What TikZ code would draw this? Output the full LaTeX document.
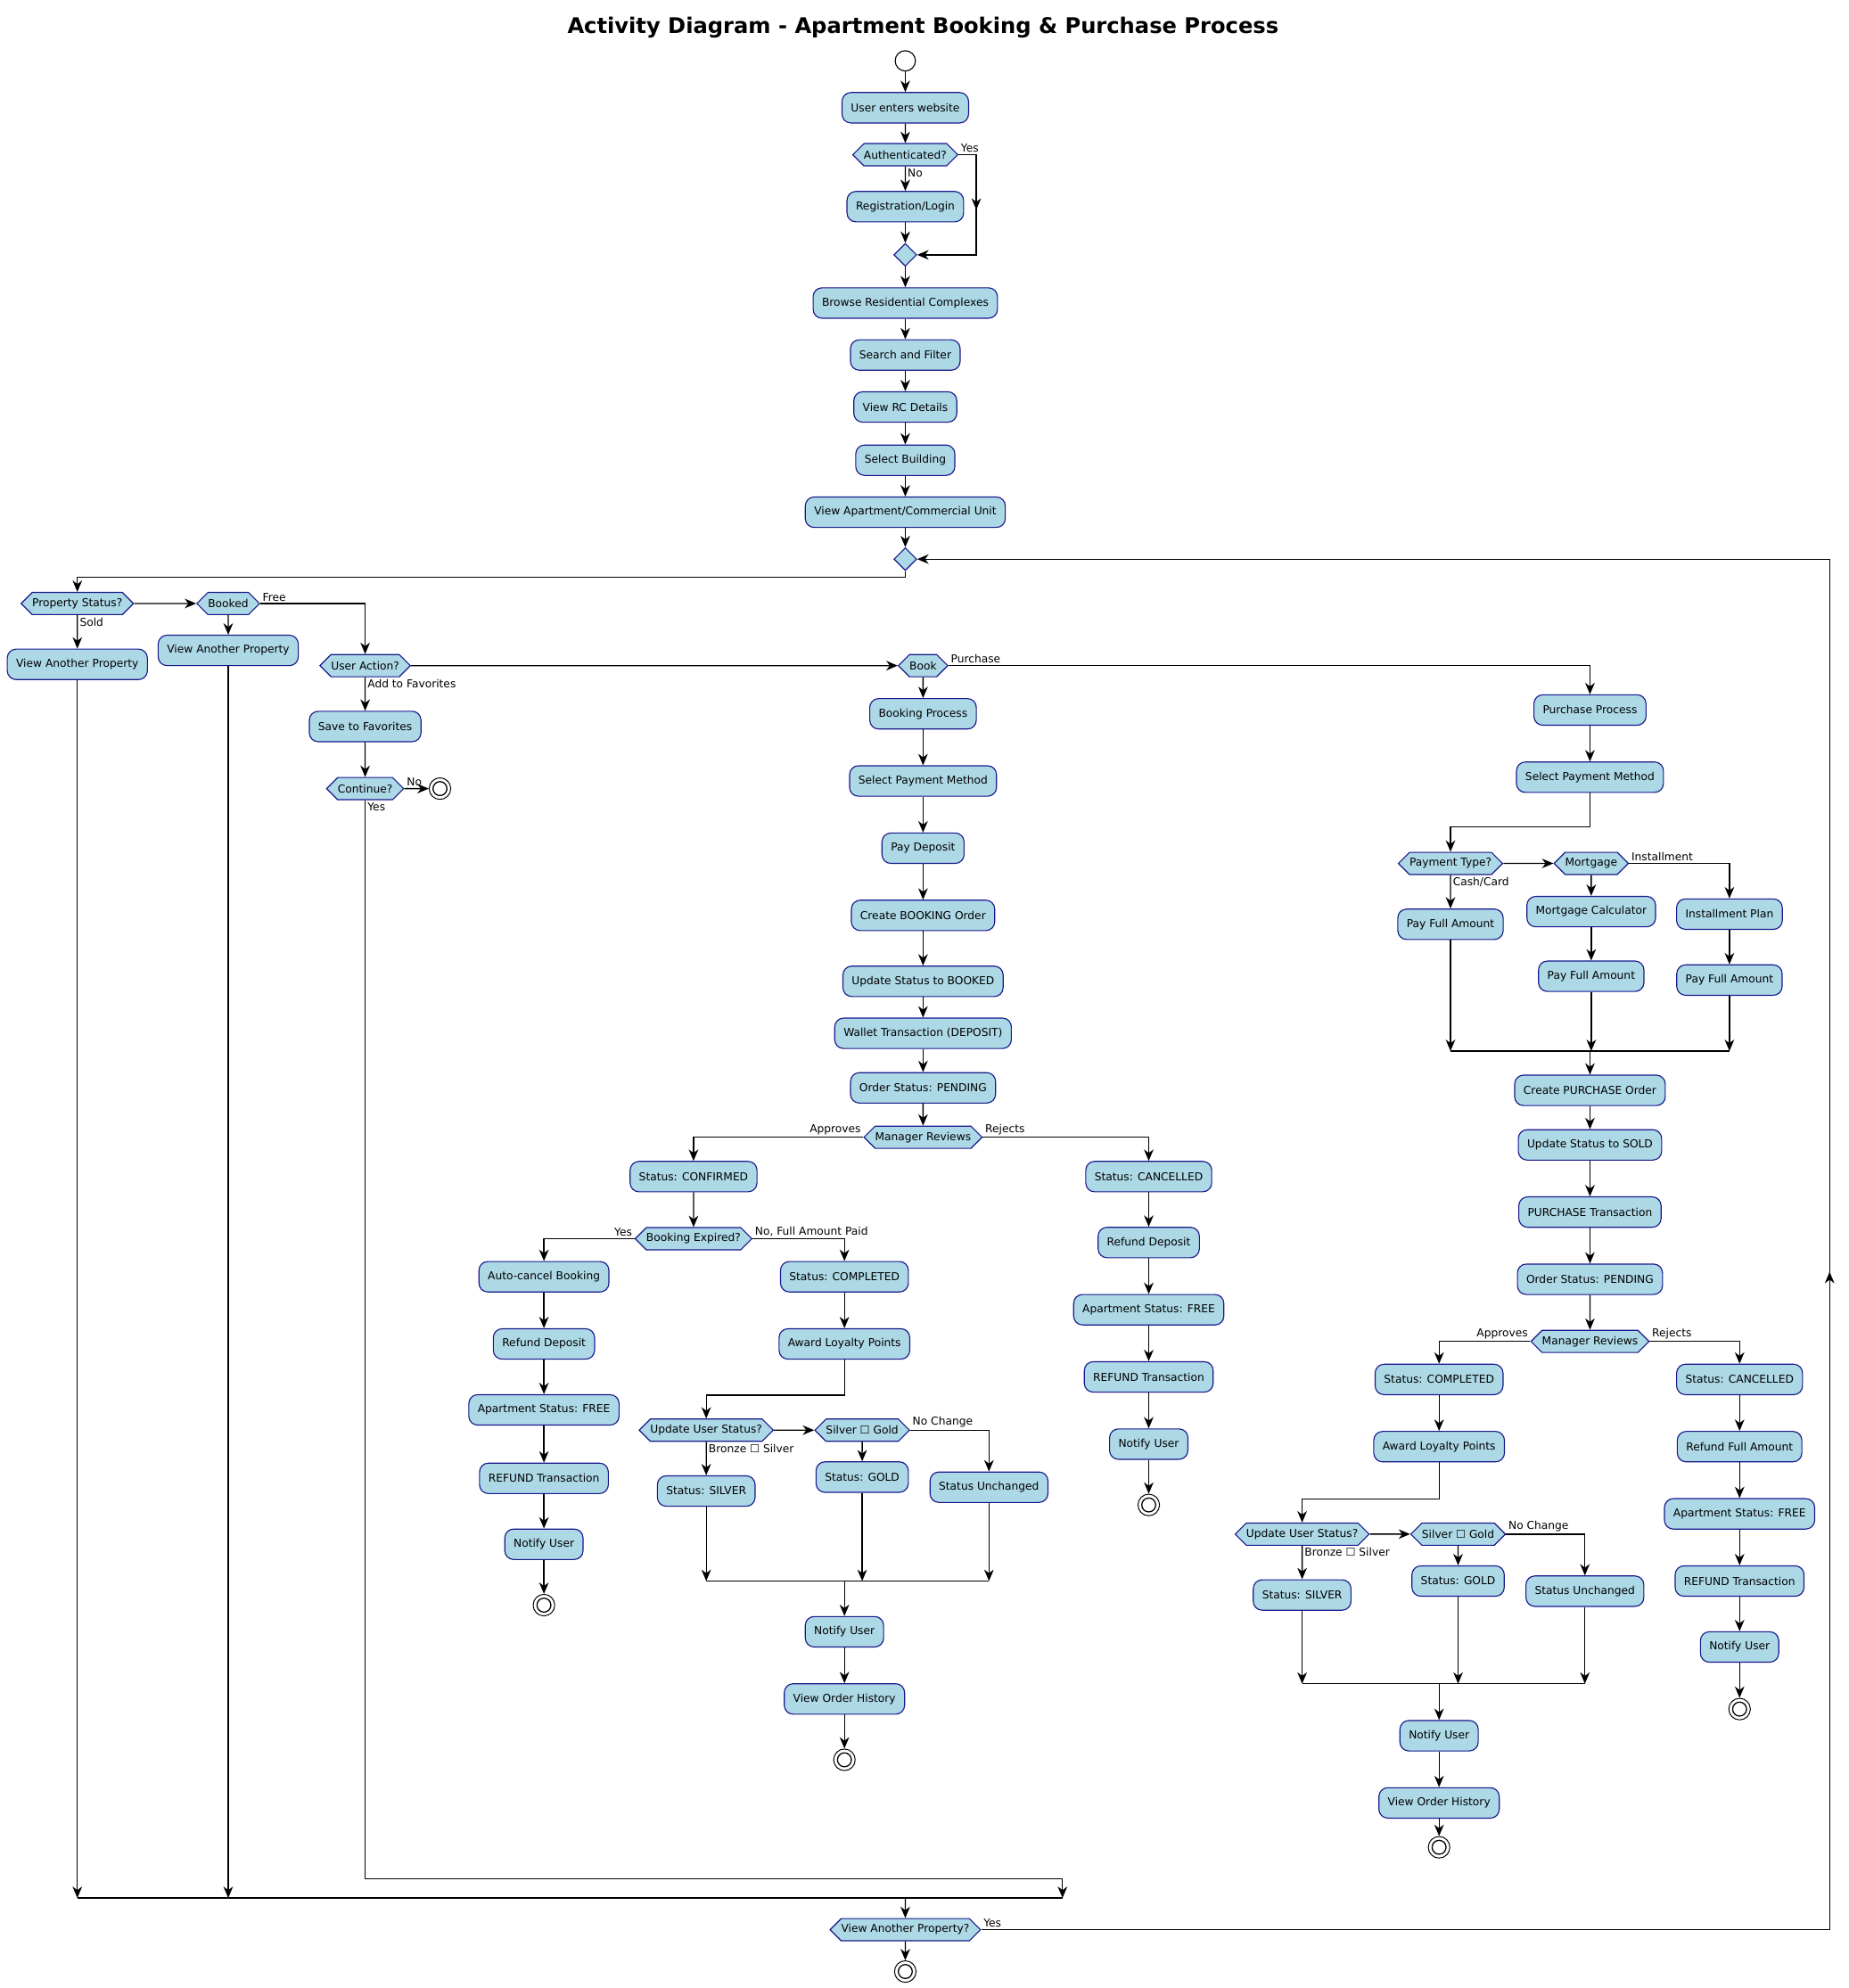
\documentclass[tikz,border=0pt]{standalone}
\usepackage{fontspec}
\setmainfont{DejaVu Sans}
\usepackage{tikz}
\usetikzlibrary{arrows.meta,positioning,shapes.symbols,shapes.geometric,decorations.markings,calc}
\usepackage{xcolor}
\definecolor{boxfill}{HTML}{ADD8E6}
\definecolor{boxline}{RGB}{24,24,140}

\begin{document}
\begin{tikzpicture}[
  x=1pt, y=-1pt,
  font=\fontsize{8.6}{10}\selectfont,
  act/.style={
    draw=boxline,
    fill=boxfill,
    rounded corners=7pt,
    line width=.8pt,
    minimum height=24pt,
    inner xsep=7pt,
    inner ysep=0pt
  },
  dec/.style={
    shape=signal,
    signal to=west and east,
    signal pointer angle=90,
    draw=boxline,
    fill=boxfill,
    line width=.8pt,
    minimum height=17.5pt,
    inner xsep=0pt,
    inner ysep=0pt
  },
  merge/.style={diamond, draw=boxline, fill=boxfill, line width=.8pt,
    minimum size=18pt, inner sep=0pt},
  startnode/.style={circle, draw, fill=white, line width=.8pt, minimum size=16pt, inner sep=0pt},
  endnode/.style={circle, draw, fill=white, line width=.7pt, minimum size=17pt, inner sep=0pt,
    path picture={\draw[line width=.9pt] (path picture bounding box.center) circle (5.5pt);}},
  lbl/.style={inner sep=1.5pt},
  arrow/.style={-{Stealth[length=9pt,width=7.5pt,inset=2.8pt]}, line width=.9pt},
  link/.style={line width=.9pt},
  midarrow/.style={link, postaction={decorate}, decoration={markings,
    mark=at position #1 with {\arrow{Stealth[length=9pt,width=7.5pt,inset=2.8pt]}}}},
  midarrow/.default=0.5
]
\useasboundingbox (0,0) rectangle (1458,1568);

\node[font=\bfseries\fontsize{17}{20}\selectfont] (title) at (728,22) {Activity Diagram - Apartment Booking \& Purchase Process};

\node[startnode] (start) at (714,48) {};
\node[act] (enter) at (714,85) {User enters website};
\node[dec] (auth) at (714,122) {Authenticated?};
\node[act] (reg) at (714,163) {Registration/Login};
\node[merge] (mauth) at (714,201) {};
\node[act] (browse) at (714,239) {Browse Residential Complexes};
\node[act] (search) at (714,280) {Search and Filter};
\node[act] (rcdet) at (714,321) {View RC Details};
\node[act] (bldg) at (714,363) {Select Building};
\node[act] (unit) at (714,404) {View Apartment/Commercial Unit};
\node[merge] (mloop) at (714,441) {};

\node[dec] (pstat) at (61,476) {Property Status?};
\node[act] (vapa) at (61,524) {View Another Property};
\node[dec] (booked) at (180,476) {Booked};
\node[act] (vapb) at (180,513) {View Another Property};
\node[dec] (uact) at (288,525) {User Action?};
\node[act] (fav) at (288,573) {Save to Favorites};
\node[dec] (cont) at (288,622) {Continue?};
\node[endnode] (favend) at (347,622) {};

\node[dec] (book) at (728,525) {Book};
\node[act] (bproc) at (728,563) {Booking Process};
\node[act] (bpay) at (728,616) {Select Payment Method};
\node[act] (deposit) at (728,669) {Pay Deposit};
\node[act] (border) at (728,722) {Create BOOKING Order};
\node[act] (bstat) at (728,774) {Update Status to BOOKED};
\node[act] (wallet) at (728,815) {Wallet Transaction (DEPOSIT)};
\node[act] (bpend) at (728,858) {Order Status: PENDING};
\node[dec] (breview) at (728,897) {Manager Reviews};
\node[act] (bconf) at (547,928) {Status: CONFIRMED};
\node[dec] (expired) at (547,977) {Booking Expired?};
\node[act] (autocancel) at (429,1007) {Auto-cancel Booking};
\node[act] (arefund) at (429,1060) {Refund Deposit};
\node[act] (afree) at (429,1112) {Apartment Status: FREE};
\node[act] (atx) at (429,1166) {REFUND Transaction};
\node[act] (anotify) at (429,1218) {Notify User};
\node[endnode] (aend) at (429,1266) {};
\node[act] (bdone) at (666,1007) {Status: COMPLETED};
\node[act] (bpoints) at (666,1060) {Award Loyalty Points};
\node[dec] (blevel) at (557,1128) {Update User Status?};
\node[dec] (bsg) at (680,1128) {Silver ☐ Gold};
\node[act] (bsilver) at (557,1176) {Status: SILVER};
\node[act] (bgold) at (680,1165) {Status: GOLD};
\node[act] (bsame) at (780,1173) {Status Unchanged};
\node[act] (bnotify) at (666,1287) {Notify User};
\node[act] (bhist) at (666,1340) {View Order History};
\node[endnode] (bend) at (666,1388) {};
\node[act] (bcancel) at (906,928) {Status: CANCELLED};
\node[act] (crefund) at (906,980) {Refund Deposit};
\node[act] (cfree) at (906,1033) {Apartment Status: FREE};
\node[act] (ctx) at (906,1086) {REFUND Transaction};
\node[act] (cnotify) at (906,1139) {Notify User};
\node[endnode] (cend) at (906,1187) {};

\node[act] (pproc) at (1254,560) {Purchase Process};
\node[act] (ppay) at (1254,613) {Select Payment Method};
\node[dec] (ptype) at (1144,681) {Payment Type?};
\node[dec] (mortgage) at (1255,681) {Mortgage};
\node[act] (pfull) at (1144,729) {Pay Full Amount};
\node[act] (mcalc) at (1255,719) {Mortgage Calculator};
\node[act] (mfull) at (1255,770) {Pay Full Amount};
\node[act] (iplan) at (1364,721) {Installment Plan};
\node[act] (ifull) at (1364,773) {Pay Full Amount};
\node[act] (porder) at (1254,860) {Create PURCHASE Order};
\node[act] (psold) at (1254,903) {Update Status to SOLD};
\node[act] (ptx) at (1254,956) {PURCHASE Transaction};
\node[act] (ppend) at (1254,1009) {Order Status: PENDING};
\node[dec] (preview) at (1254,1058) {Manager Reviews};
\node[act] (pdone) at (1135,1088) {Status: COMPLETED};
\node[act] (ppoints) at (1135,1141) {Award Loyalty Points};
\node[dec] (plevel) at (1027,1210) {Update User Status?};
\node[dec] (psg) at (1150,1210) {Silver ☐ Gold};
\node[act] (psilver) at (1027,1258) {Status: SILVER};
\node[act] (pgold) at (1150,1247) {Status: GOLD};
\node[act] (psame) at (1250,1255) {Status Unchanged};
\node[act] (pnotify) at (1135,1369) {Notify User};
\node[act] (phist) at (1135,1422) {View Order History};
\node[endnode] (pend) at (1135,1457) {};
\node[act] (pcancel) at (1372,1088) {Status: CANCELLED};
\node[act] (prefund) at (1372,1141) {Refund Full Amount};
\node[act] (pfree) at (1372,1194) {Apartment Status: FREE};
\node[act] (pretx) at (1372,1247) {REFUND Transaction};
\node[act] (prnotify) at (1372,1299) {Notify User};
\node[endnode] (prend) at (1372,1348) {};

\node[dec] (again) at (714,1522) {View Another Property?};
\node[endnode] (finish) at (714,1555) {};

\coordinate (favbend) at (838,1482);
\coordinate (alljoin) at (714,1497);
\coordinate (payjoin) at (1254,829);
\coordinate (bjoin) at (666,1247);
\coordinate (pjoin) at (1135,1328);
\coordinate (loopx) at (1443,1522);

% entry
\draw[arrow] (start) -- (enter);
\draw[arrow] (enter) -- (auth);
\draw[arrow] (auth) -- node[lbl, anchor=north west, pos=0] {No} (reg);
\draw[arrow] (auth.east) -- node[lbl, anchor=south west, pos=0] {Yes} ++(14,0) coordinate (authyes) |- (mauth.east);
\draw[midarrow=0.55] (authyes) -- (authyes |- mauth);
\draw[arrow] (reg) -- (mauth);
\draw[arrow] (mauth) -- (browse);
\draw[arrow] (browse) -- (search);
\draw[arrow] (search) -- (rcdet);
\draw[arrow] (rcdet) -- (bldg);
\draw[arrow] (bldg) -- (unit);
\draw[arrow] (unit) -- (mloop);
\draw[arrow] (mloop.south) -- ++(0,5) -| (pstat.north);

% property status
\draw[arrow] (pstat) -- node[lbl, anchor=north west, pos=0] {Sold} (vapa);
\draw[arrow] (pstat) -- (booked);
\draw[arrow] (booked) -- (vapb);
\draw[arrow] (booked.east) -- node[lbl, anchor=south west, pos=0] {Free} ++(83,0) -| (uact.north);
\draw[arrow] (uact) -- node[lbl, anchor=north west, pos=0] {Add to Favorites} (fav);
\draw[arrow] (uact) -- (book);
\draw[arrow] (fav) -- (cont);
\draw[arrow] (cont) -- node[lbl, anchor=south west, pos=0] {No} (favend);
\draw[link] (cont.south) -- node[lbl, anchor=north west, pos=0] {Yes} (cont |- favbend) -- (favbend);
\draw[arrow] (favbend) -- (favbend |- alljoin);
\draw[arrow] (vapa) -- (vapa |- alljoin);
\draw[arrow] (vapb) -- (vapb |- alljoin);
\draw[link] (vapa |- alljoin) -- (favbend |- alljoin);
\draw[arrow] (alljoin) -- (again);
\draw[arrow] (again) -- (finish);
\draw[arrow] (again.east) -- node[lbl, anchor=south west, pos=0] {Yes} (loopx) |- (mloop.east);
\draw[midarrow=0.48] (loopx) -- (loopx |- mloop);

% booking
\draw[arrow] (book) -- (bproc);
\draw[arrow] (bproc) -- (bpay);
\draw[arrow] (bpay) -- (deposit);
\draw[arrow] (deposit) -- (border);
\draw[arrow] (border) -- (bstat);
\draw[arrow] (bstat) -- (wallet);
\draw[arrow] (wallet) -- (bpend);
\draw[arrow] (bpend) -- (breview);
\draw[arrow] (breview.west) -- node[lbl, anchor=south east, pos=0] {Approves} (breview.west -| bconf) -- (bconf);
\draw[arrow] (breview.east) -- node[lbl, anchor=south west, pos=0] {Rejects} (breview.east -| bcancel) -- (bcancel);
\draw[arrow] (bconf) -- (expired);
\draw[arrow] (expired.west) -- node[lbl, anchor=south east, pos=0] {Yes} (expired.west -| autocancel) -- (autocancel);
\draw[arrow] (expired.east) -- node[lbl, anchor=south west, pos=0] {No, Full Amount Paid} (expired.east -| bdone) -- (bdone);
\draw[arrow] (autocancel) -- (arefund);
\draw[arrow] (arefund) -- (afree);
\draw[arrow] (afree) -- (atx);
\draw[arrow] (atx) -- (anotify);
\draw[arrow] (anotify) -- (aend);
\draw[arrow] (bdone) -- (bpoints);
\draw[arrow] (bpoints.south) -- ++(0,28) -| (blevel.north);
\draw[arrow] (blevel) -- (bsg);
\draw[arrow] (blevel) -- node[lbl, anchor=north west, pos=0] {Bronze ☐ Silver} (bsilver);
\draw[arrow] (bsg) -- (bgold);
\draw[arrow] (bsg.east) -- node[lbl, anchor=south west, pos=0] {No Change} (bsg.east -| bsame) -- (bsame);
\draw[arrow] (bsilver) -- (bsilver |- bjoin);
\draw[arrow] (bgold) -- (bgold |- bjoin);
\draw[arrow] (bsame) -- (bsame |- bjoin);
\draw[link] (bsilver |- bjoin) -- (bsame |- bjoin);
\draw[arrow] (bjoin) -- (bnotify);
\draw[arrow] (bnotify) -- (bhist);
\draw[arrow] (bhist) -- (bend);
\draw[arrow] (bcancel) -- (crefund);
\draw[arrow] (crefund) -- (cfree);
\draw[arrow] (cfree) -- (ctx);
\draw[arrow] (ctx) -- (cnotify);
\draw[arrow] (cnotify) -- (cend);

% purchase
\draw[arrow] (book.east) -- node[lbl, anchor=south west, pos=0] {Purchase} (book.east -| pproc) -- (pproc);
\draw[arrow] (pproc) -- (ppay);
\draw[arrow] (ppay.south) -- ++(0,27) -| (ptype.north);
\draw[arrow] (ptype) -- (mortgage);
\draw[arrow] (ptype) -- node[lbl, anchor=north west, pos=0] {Cash/Card} (pfull);
\draw[arrow] (mortgage) -- (mcalc);
\draw[arrow] (mcalc) -- (mfull);
\draw[arrow] (mortgage.east) -- node[lbl, anchor=south west, pos=0] {Installment} (mortgage.east -| iplan) -- (iplan);
\draw[arrow] (iplan) -- (ifull);
\draw[arrow] (pfull) -- (pfull |- payjoin);
\draw[arrow] (mfull) -- (mfull |- payjoin);
\draw[arrow] (ifull) -- (ifull |- payjoin);
\draw[link] (pfull |- payjoin) -- (ifull |- payjoin);
\draw[arrow] (payjoin) -- (porder);
\draw[arrow] (porder) -- (psold);
\draw[arrow] (psold) -- (ptx);
\draw[arrow] (ptx) -- (ppend);
\draw[arrow] (ppend) -- (preview);
\draw[arrow] (preview.west) -- node[lbl, anchor=south east, pos=0] {Approves} (preview.west -| pdone) -- (pdone);
\draw[arrow] (preview.east) -- node[lbl, anchor=south west, pos=0] {Rejects} (preview.east -| pcancel) -- (pcancel);
\draw[arrow] (pdone) -- (ppoints);
\draw[arrow] (ppoints.south) -- ++(0,29) -| (plevel.north);
\draw[arrow] (plevel) -- (psg);
\draw[arrow] (plevel) -- node[lbl, anchor=north west, pos=0] {Bronze ☐ Silver} (psilver);
\draw[arrow] (psg) -- (pgold);
\draw[arrow] (psg.east) -- node[lbl, anchor=south west, pos=0] {No Change} (psg.east -| psame) -- (psame);
\draw[arrow] (psilver) -- (psilver |- pjoin);
\draw[arrow] (pgold) -- (pgold |- pjoin);
\draw[arrow] (psame) -- (psame |- pjoin);
\draw[link] (psilver |- pjoin) -- (psame |- pjoin);
\draw[arrow] (pjoin) -- (pnotify);
\draw[arrow] (pnotify) -- (phist);
\draw[arrow] (phist) -- (pend);
\draw[arrow] (pcancel) -- (prefund);
\draw[arrow] (prefund) -- (pfree);
\draw[arrow] (pfree) -- (pretx);
\draw[arrow] (pretx) -- (prnotify);
\draw[arrow] (prnotify) -- (prend);
\end{tikzpicture}
\end{document}
